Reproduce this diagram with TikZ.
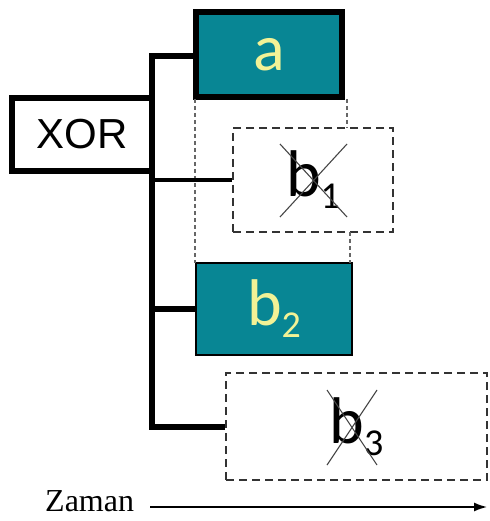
\documentclass[tikz,border=0pt]{standalone}
\usepackage{fontspec}
\setmainfont{Liberation Serif}
\newfontfamily\lblfont{Carlito}
\newfontfamily\xorfont{Liberation Sans}
\usetikzlibrary{arrows.meta}
\definecolor{tealbox}{RGB}{8,134,148}
\definecolor{lblyellow}{RGB}{242,242,150}
\definecolor{crossgray}{RGB}{70,70,70}
\tikzset{
  bar/.style={line width=6.5pt},
  thinbar/.style={line width=4pt},
  solidbox/.style={draw, fill=tealbox, inner sep=0pt, text=lblyellow, font=\lblfont\fontsize{66}{66}\selectfont},
  dashbox/.style={draw=black!80, line width=1.5pt, dash pattern=on 8pt off 5pt, inner sep=0pt, font=\lblfont\fontsize{66}{66}\selectfont},
  guide/.style={draw=black!60, line width=1.2pt, dash pattern=on 4pt off 3pt},
  crossline/.style={draw=crossgray, line width=1.1pt},
}
\newcommand{\subs}[1]{\raisebox{-0.18em}{\fontsize{38}{38}\selectfont #1}}
\begin{document}
\begin{tikzpicture}[x=1pt,y=-1pt]
\useasboundingbox (0,0) rectangle (489,521);
% boxes
\node[draw, line width=6pt, minimum width=140pt, minimum height=73pt, inner sep=0pt,
      font=\xorfont\fontsize{42}{42}\selectfont] (xor) at (82,134.5) {XOR};
\node[solidbox, line width=6pt, minimum width=146pt, minimum height=85pt] (a) at (269,54.5) {\raisebox{-4pt}{a}};
\node[dashbox, minimum width=160pt, minimum height=104pt] (b1) at (313,180) {b\subs{1}};
\node[solidbox, line width=1.4pt, minimum width=156pt, minimum height=92pt] (b2) at (274,309) {b\subs{2}};
\node[dashbox, minimum width=261pt, minimum height=107pt] (b3) at (356.5,426.5) {b\subs{3}};
% guide lines
\coordinate (g1t) at (195,99);  \coordinate (g1b) at (195,263);
\coordinate (g2t) at (347,99);  \coordinate (g2b) at (347,128);
\coordinate (g3t) at (350,232); \coordinate (g3b) at (350,263);
\draw[guide] (g1t) -- (g1b);
\draw[guide] (g2t) -- (g2b);
\draw[guide] (g3t) -- (g3b);
% tree connectors
\coordinate (bartop) at (152,56);
\coordinate (barbot) at (152,427);
\draw[bar] (a.west |- bartop) -- (bartop) -- (barbot) -- (b3.west |- barbot);
\draw[thinbar] (bartop |- b1.west) -- (b1.west);
\draw[bar] (bartop |- b2.west) -- (b2.west);
% crosses
\coordinate (c1a) at (280,144); \coordinate (c1b) at (347,217);
\coordinate (c1c) at (347,144); \coordinate (c1d) at (280,217);
\draw[crossline] (c1a) -- (c1b);
\draw[crossline] (c1c) -- (c1d);
\coordinate (c3a) at (327,390); \coordinate (c3b) at (377,465);
\coordinate (c3c) at (377,390); \coordinate (c3d) at (327,465);
\draw[crossline] (c3a) -- (c3b);
\draw[crossline] (c3c) -- (c3d);
% time axis
\node[anchor=base west, inner sep=0pt, font=\fontsize{32}{32}\selectfont] (zaman) at (45,511) {Zaman};
\coordinate (arrS) at (150,507);
\coordinate (arrE) at (487,507);
\draw[line width=1.5pt, -{Latex[length=13pt,width=9pt]}] (arrS) -- (arrE);
\end{tikzpicture}
\end{document}
